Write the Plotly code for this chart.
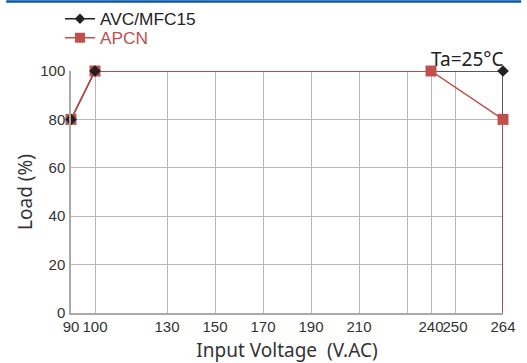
import numpy as np
import plotly.graph_objects as go

# Axis tick voltages, their drawn positions (axis is compressed near the end) and labels
tick_voltage = [90, 100, 130, 150, 170, 190, 210, 230, 240, 250, 264]
tick_pos = [90, 100, 130, 150, 170, 190, 210, 230, 240, 250, 270]
tick_labels = ["90", "100", "130", "150", "170", "190", "210", "", "240", "250", "264"]

# Series
avc_voltage = [90, 100, 264, 264]
avc_load = [80, 100, 100, 0]
avc_marker_voltage = [90, 100, 264]
avc_marker_load = [80, 100, 100]

apcn_voltage = [90, 100, 240, 264, 264]
apcn_load = [80, 100, 100, 80, 0]
apcn_marker_voltage = [90, 100, 240, 264]
apcn_marker_load = [80, 100, 100, 80]

y_ticks = [0, 20, 40, 60, 80, 100]


def to_axis(v):
    return np.interp(v, tick_voltage, tick_pos)


BLACK = "#222222"
RED = "#c0504d"
TITLE_FONT = "Noto Sans, Open Sans, sans-serif"
LABEL_FONT = "Liberation Sans, Arial, sans-serif"

fig = go.Figure()

fig.add_trace(go.Scatter(
    x=to_axis(avc_voltage), y=avc_load, mode="lines",
    line=dict(color=BLACK, width=1.5), showlegend=False, cliponaxis=False,
))
fig.add_trace(go.Scatter(
    x=to_axis(apcn_voltage), y=apcn_load, mode="lines",
    line=dict(color=RED, width=1.5), showlegend=False, cliponaxis=False,
))
fig.add_trace(go.Scatter(
    x=to_axis(apcn_marker_voltage), y=apcn_marker_load, mode="markers",
    marker=dict(symbol="square", size=11, color=RED), showlegend=False, cliponaxis=False,
))
fig.add_trace(go.Scatter(
    x=to_axis(avc_marker_voltage), y=avc_marker_load, mode="markers",
    marker=dict(symbol="diamond", size=9, color=BLACK), showlegend=False, cliponaxis=False,
))
# legend entries
fig.add_trace(go.Scatter(
    x=[None], y=[None], mode="lines+markers", name="AVC/MFC15", legend="legend",
    line=dict(color=BLACK, width=1.5), marker=dict(symbol="diamond", size=8, color=BLACK),
))
fig.add_trace(go.Scatter(
    x=[None], y=[None], mode="lines+markers", legend="legend2",
    name="<span style='color:%s'>APCN</span>" % RED,
    line=dict(color=RED, width=1.5), marker=dict(symbol="square", size=10, color=RED),
))

leg_common = dict(
    xanchor="left", yanchor="middle",
    font=dict(family=LABEL_FONT, size=17.3, color=BLACK),
    bgcolor="rgba(0,0,0,0)", itemwidth=30, borderwidth=0,
)

fig.update_layout(
    width=527, height=363,
    margin=dict(l=71, r=24, t=71, b=50, autoexpand=False),
    paper_bgcolor="white", plot_bgcolor="white",
    font=dict(family=LABEL_FONT, size=15, color="#333333"),
    legend=dict(x=(60 - 71) / 432, y=1 + (71 - 19) / 242, **leg_common),
    legend2=dict(x=(60 - 71) / 432, y=1 + (71 - 38) / 242, **leg_common),
    xaxis=dict(
        range=[90, 270], tickmode="array", tickvals=tick_pos, ticktext=tick_labels,
        tickangle=0,
        showgrid=True, gridcolor="#b8b8b8", gridwidth=1.2,
        showline=True, linecolor="#aaaaaa", linewidth=1.5,
        zeroline=False, ticks="", ticklabelstandoff=-1,
        title=dict(text="Input Voltage  (V.AC)", standoff=12,
                   font=dict(family=TITLE_FONT, size=19, color="#333333")),
    ),
    yaxis=dict(
        range=[0, 100], tickmode="array", tickvals=y_ticks,
        showgrid=True, gridcolor="#b8b8b8", gridwidth=1.2,
        showline=True, linecolor="#aaaaaa", linewidth=1.5,
        zeroline=False, ticks="", ticklabelstandoff=1,
        title=dict(text="Load (%)", standoff=3,
                   font=dict(family=TITLE_FONT, size=19, color="#333333")),
    ),
    annotations=[dict(
        x=to_axis(264), y=100, xref="x", yref="y", text="Ta=25°C",
        showarrow=False, xanchor="right", yanchor="bottom", yshift=-3, xshift=2,
        font=dict(family=TITLE_FONT, size=19, color="#222222"),
    )],
    shapes=[dict(
        type="line", xref="paper", yref="paper",
        x0=-0.150, x1=1.042, y0=1 + (71 - 1.5) / 242, y1=1 + (71 - 1.5) / 242,
        line=dict(color="#0b57a4", width=2.5),
    )],
)

fig.write_html("out.html", config={"displayModeBar": False},
               post_script="document.body.style.margin='0';")
